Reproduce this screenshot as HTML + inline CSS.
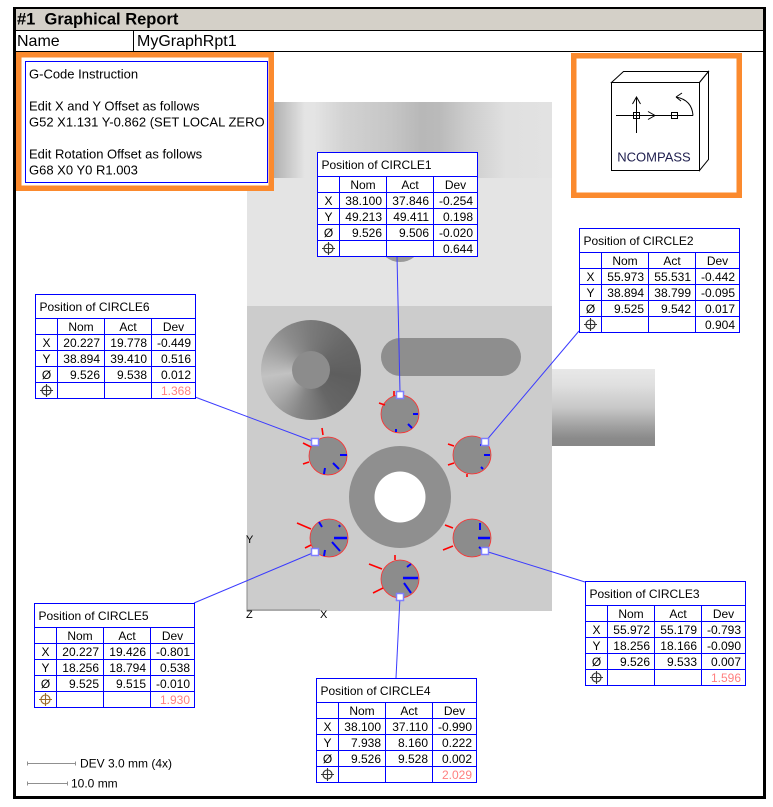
<!DOCTYPE html>
<html><head><meta charset="utf-8"><style>
html,body{margin:0;padding:0;background:#fff;}
body{width:773px;height:807px;position:relative;overflow:hidden;}
svg{position:absolute;left:0;top:0;}
.disc{position:absolute;left:261px;top:320px;width:100px;height:100px;border-radius:50%;
background:conic-gradient(from 0deg,#7a7a7a 0deg,#686868 50deg,#5e5e5e 100deg,#666 150deg,#858585 195deg,#aaaaaa 230deg,#c2c2c2 262deg,#a4a4a4 295deg,#8c8c8c 325deg,#7a7a7a 360deg);}
.disc:after{content:"";position:absolute;left:31px;top:31px;width:38px;height:38px;border-radius:50%;background:#8c8c8c;}
.t rect{fill:#fff;stroke:#0000ff;stroke-width:1}
.t path{fill:none;stroke:#0000ff;stroke-width:1}
.t text{font-size:12px;fill:#000}
.t .r{text-anchor:end}
.t .c{text-anchor:middle}
.t .p{fill:#ff8080}
.t .ps{fill:none;stroke:#333;stroke-width:1.1}
.t .ps5{fill:none;stroke:#9a6a2a;stroke-width:1.1}
</style></head><body>
<svg width="773" height="807" font-family="Liberation Sans, Arial, sans-serif">
<defs>
<linearGradient id="band" x1="0" x2="1" y1="0" y2="0">
<stop offset="0" stop-color="#d8d8d8"/><stop offset="0.09" stop-color="#b2b2b2"/><stop offset="0.19" stop-color="#e4e4e4"/><stop offset="0.22" stop-color="#e4e4e4"/><stop offset="0.32" stop-color="#d2d2d2"/><stop offset="0.47" stop-color="#c6c6c6"/><stop offset="0.57" stop-color="#b8b8b8"/><stop offset="0.63" stop-color="#bababa"/><stop offset="0.72" stop-color="#cccccc"/><stop offset="0.85" stop-color="#e0e0e0"/><stop offset="1" stop-color="#e2e2e2"/>
</linearGradient>
<linearGradient id="cyl" x1="0" x2="0" y1="0" y2="1">
<stop offset="0" stop-color="#e8e8e8"/><stop offset="0.2" stop-color="#e0e0e0"/><stop offset="0.5" stop-color="#c8c8c8"/><stop offset="0.75" stop-color="#a0a0a0"/><stop offset="0.9" stop-color="#8a8a8a"/><stop offset="1" stop-color="#888"/>
</linearGradient>
</defs>
<rect width="773" height="807" fill="#fff"/>
<!-- frame -->
<rect x="16" y="9" width="747" height="21" fill="#d4d0c8"/>
<rect x="13" y="7" width="753" height="2" fill="#000"/>
<rect x="13" y="7" width="3" height="792" fill="#000"/>
<rect x="763" y="7" width="3" height="792" fill="#000"/>
<rect x="13" y="796" width="753" height="3" fill="#000"/>
<rect x="16" y="30" width="747" height="1" fill="#000"/>
<rect x="16" y="51" width="747" height="1" fill="#000"/>
<rect x="133" y="31" width="1" height="20" fill="#000"/>
<text x="17" y="24.5" font-size="16.5" font-weight="bold">#1&#160; Graphical Report</text>
<text x="17" y="46" font-size="16">Name</text>
<text x="137" y="46" font-size="16">MyGraphRpt1</text>

<!-- part body -->
<rect x="247" y="102" width="305" height="76" fill="url(#band)"/>
<rect x="247" y="178" width="305" height="128" fill="#e4e4e4"/>
<ellipse cx="400" cy="245" rx="20" ry="17" fill="#9a9a9a"/>
<rect x="247" y="306" width="305" height="305" fill="#cccccc"/>
<rect x="552" y="369" width="103" height="77" fill="url(#cyl)"/>
<rect x="381" y="338" width="140" height="38" rx="19" ry="19" fill="#8e8e8e"/>
<circle cx="400" cy="497" r="51" fill="#8f8f8f"/>
<circle cx="400" cy="497" r="25.5" fill="#fff"/>
<!-- axes -->
<path d="M247 535V610H320" fill="none" stroke="#888" stroke-width="1"/>
<text x="246" y="543" font-size="11">Y</text>
<text x="246" y="618" font-size="11">Z</text>
<text x="320" y="618" font-size="11">X</text>

<!-- connectors -->
<g stroke="#3a3aff" stroke-width="1" fill="none">
<path d="M397 256L400 392"/>
<path d="M579 331L485 442"/>
<path d="M195 397L315 442"/>
<path d="M194 603L315 552"/>
<path d="M485 551L585 582"/>
<path d="M400 597L396 678"/>
</g>

<!-- circles -->
<g fill="#8c8c8c" stroke="#ff3030" stroke-width="0.8">
<circle cx="400" cy="414" r="19"/>
<circle cx="472" cy="455" r="19"/>
<circle cx="328" cy="456" r="19"/>
<circle cx="329" cy="538" r="19"/>
<circle cx="472" cy="538" r="19"/>
<circle cx="400" cy="579" r="19"/>
</g>
<g stroke="#ff0000" stroke-width="1.6" fill="none">
<path d="M394 391V396M379 403L385 405"/>
<path d="M322 428L323 435M303 443L311 447M303 464L309 462"/>
<path d="M448 444L454 446M448 465L454 463M467 474V477"/>
<path d="M297 523L311 529M305 548L311 545"/>
<path d="M445 525L453 528M443 550L453 546"/>
<path d="M369 564L382 569M373 593L383 588M395 555V560"/>
</g>
<g stroke="#0000ff" stroke-width="2" fill="none">
<path d="M413 414H418M408 424L412 428M396 429V432"/>
<path d="M340 455H347M333 463L339 469M325 468L324 474"/>
<path d="M484 455H490M481 444V446M481 467L483 469"/>
<path d="M332 542L340 551M319 522L322 527M325 550L324 556M339 525L340 527" />
<path d="M480 523V530M479 547L484 551"/>
<path d="M404 583L411 593M407 567L411 564"/>
</g>
<path d="M334 538H347M478 538H490M403 578H418" stroke="#0000ff" stroke-width="2.6"/>
<g fill="#fff" stroke="#7f7fff" stroke-width="1.5">
<rect x="396.5" y="391.5" width="7" height="7"/>
<rect x="481.5" y="438.5" width="7" height="7"/>
<rect x="311.5" y="438.5" width="7" height="7"/>
<rect x="311.5" y="548.5" width="7" height="7"/>
<rect x="481.5" y="547.5" width="7" height="7"/>
<rect x="396.5" y="593.5" width="7" height="7"/>
</g>

<!-- G-code box -->
<rect x="18.75" y="54.75" width="252.5" height="133.5" fill="#fff" stroke="#fb8a2e" stroke-width="5.5"/>
<rect x="25.5" y="61.5" width="242" height="121" fill="#fff" stroke="#0000ff" stroke-width="1"/>
<g font-size="13">
<text x="29" y="78.5">G-Code Instruction</text>
<text x="29" y="110.5">Edit X and Y Offset as follows</text>
<text x="29" y="126.5">G52 X1.131 Y-0.862 (SET LOCAL ZERO</text>
<text x="29" y="158.5">Edit Rotation Offset as follows</text>
<text x="29" y="174.5">G68 X0 Y0 R1.003</text>
</g>

<!-- NCOMPASS -->
<rect x="573.75" y="55.75" width="165.5" height="139.5" fill="#fff" stroke="#fb8a2e" stroke-width="5.5"/>
<g fill="#fff" stroke="#000" stroke-width="1">
<path d="M611.5 82.5L623.5 71.5H708.5L699.5 82.5Z"/>
<path d="M699.5 82.5L708.5 71.5V159.5L699.5 170.5Z"/>
<rect x="611.5" y="82.5" width="88" height="88"/>
<path d="M636.5 133V97M632.5 104L636.5 97L640.5 104M616 115.5H693" fill="none"/>
<rect x="633.5" y="112.5" width="6" height="6" fill="none"/>
<rect x="671.5" y="112.5" width="6" height="6" fill="none"/>
<path d="M648 111.5L655 115.5L648 119.5" fill="none"/>
<path d="M693 115.5Q692 100 676 97M676 97L682 93M676 97L681 101" fill="none"/>
</g>
<text x="654" y="161.5" font-size="13" text-anchor="middle" fill="#1e1e4e">NCOMPASS</text>

<!-- tables -->
<g class="t" transform="translate(317.5,152.5)">
<rect width="160" height="104"/>
<path d="M0 24H160M0 40H160M0 56H160M0 72H160M0 88H160M22 24V104M69 24V104M116 24V104"/>
<text x="4" y="16.5">Position of CIRCLE1</text>
<text class="c" x="45.5" y="36.5">Nom</text><text class="c" x="92.5" y="36.5">Act</text><text class="c" x="138" y="36.5">Dev</text>
<text class="c" x="11" y="52.5">X</text><text class="c" x="11" y="68.5">Y</text><text class="c" x="11" y="84.5">Ø</text>
<circle class="ps" cx="11" cy="96" r="4.5"/><path class="ps" d="M4.5 96H17.5M11 89.5V102.5"/>
<text class="r" x="64.5" y="52.5">38.100</text><text class="r" x="111.5" y="52.5">37.846</text><text class="r" x="155.5" y="52.5">-0.254</text>
<text class="r" x="64.5" y="68.5">49.213</text><text class="r" x="111.5" y="68.5">49.411</text><text class="r" x="155.5" y="68.5">0.198</text>
<text class="r" x="64.5" y="84.5">9.526</text><text class="r" x="111.5" y="84.5">9.506</text><text class="r" x="155.5" y="84.5">-0.020</text>
<text class="r" x="155.5" y="100.5">0.644</text>
</g>

<g class="t" transform="translate(579.5,228.5)">
<rect width="160" height="104"/>
<path d="M0 24H160M0 40H160M0 56H160M0 72H160M0 88H160M22 24V104M69 24V104M116 24V104"/>
<text x="4" y="16.5">Position of CIRCLE2</text>
<text class="c" x="45.5" y="36.5">Nom</text><text class="c" x="92.5" y="36.5">Act</text><text class="c" x="138" y="36.5">Dev</text>
<text class="c" x="11" y="52.5">X</text><text class="c" x="11" y="68.5">Y</text><text class="c" x="11" y="84.5">Ø</text>
<circle class="ps" cx="11" cy="96" r="4.5"/><path class="ps" d="M4.5 96H17.5M11 89.5V102.5"/>
<text class="r" x="64.5" y="52.5">55.973</text><text class="r" x="111.5" y="52.5">55.531</text><text class="r" x="155.5" y="52.5">-0.442</text>
<text class="r" x="64.5" y="68.5">38.894</text><text class="r" x="111.5" y="68.5">38.799</text><text class="r" x="155.5" y="68.5">-0.095</text>
<text class="r" x="64.5" y="84.5">9.525</text><text class="r" x="111.5" y="84.5">9.542</text><text class="r" x="155.5" y="84.5">0.017</text>
<text class="r" x="155.5" y="100.5">0.904</text>
</g>

<g class="t" transform="translate(35.5,294.5)">
<rect width="160" height="104"/>
<path d="M0 24H160M0 40H160M0 56H160M0 72H160M0 88H160M22 24V104M69 24V104M116 24V104"/>
<text x="4" y="16.5">Position of CIRCLE6</text>
<text class="c" x="45.5" y="36.5">Nom</text><text class="c" x="92.5" y="36.5">Act</text><text class="c" x="138" y="36.5">Dev</text>
<text class="c" x="11" y="52.5">X</text><text class="c" x="11" y="68.5">Y</text><text class="c" x="11" y="84.5">Ø</text>
<circle class="ps" cx="11" cy="96" r="4.5"/><path class="ps" d="M4.5 96H17.5M11 89.5V102.5"/>
<text class="r" x="64.5" y="52.5">20.227</text><text class="r" x="111.5" y="52.5">19.778</text><text class="r" x="155.5" y="52.5">-0.449</text>
<text class="r" x="64.5" y="68.5">38.894</text><text class="r" x="111.5" y="68.5">39.410</text><text class="r" x="155.5" y="68.5">0.516</text>
<text class="r" x="64.5" y="84.5">9.526</text><text class="r" x="111.5" y="84.5">9.538</text><text class="r" x="155.5" y="84.5">0.012</text>
<text class="r p" x="155.5" y="100.5">1.368</text>
</g>

<g class="t" transform="translate(34.5,603.5)">
<rect width="160" height="104"/>
<path d="M0 24H160M0 40H160M0 56H160M0 72H160M0 88H160M22 24V104M69 24V104M116 24V104"/>
<text x="4" y="16.5">Position of CIRCLE5</text>
<text class="c" x="45.5" y="36.5">Nom</text><text class="c" x="92.5" y="36.5">Act</text><text class="c" x="138" y="36.5">Dev</text>
<text class="c" x="11" y="52.5">X</text><text class="c" x="11" y="68.5">Y</text><text class="c" x="11" y="84.5">Ø</text>
<circle class="ps5" cx="11" cy="96" r="4.5"/><path class="ps5" d="M4.5 96H17.5M11 89.5V102.5"/>
<text class="r" x="64.5" y="52.5">20.227</text><text class="r" x="111.5" y="52.5">19.426</text><text class="r" x="155.5" y="52.5">-0.801</text>
<text class="r" x="64.5" y="68.5">18.256</text><text class="r" x="111.5" y="68.5">18.794</text><text class="r" x="155.5" y="68.5">0.538</text>
<text class="r" x="64.5" y="84.5">9.525</text><text class="r" x="111.5" y="84.5">9.515</text><text class="r" x="155.5" y="84.5">-0.010</text>
<text class="r p" x="155.5" y="100.5">1.930</text>
</g>

<g class="t" transform="translate(316.5,678.5)">
<rect width="160" height="104"/>
<path d="M0 24H160M0 40H160M0 56H160M0 72H160M0 88H160M22 24V104M69 24V104M116 24V104"/>
<text x="4" y="16.5">Position of CIRCLE4</text>
<text class="c" x="45.5" y="36.5">Nom</text><text class="c" x="92.5" y="36.5">Act</text><text class="c" x="138" y="36.5">Dev</text>
<text class="c" x="11" y="52.5">X</text><text class="c" x="11" y="68.5">Y</text><text class="c" x="11" y="84.5">Ø</text>
<circle class="ps" cx="11" cy="96" r="4.5"/><path class="ps" d="M4.5 96H17.5M11 89.5V102.5"/>
<text class="r" x="64.5" y="52.5">38.100</text><text class="r" x="111.5" y="52.5">37.110</text><text class="r" x="155.5" y="52.5">-0.990</text>
<text class="r" x="64.5" y="68.5">7.938</text><text class="r" x="111.5" y="68.5">8.160</text><text class="r" x="155.5" y="68.5">0.222</text>
<text class="r" x="64.5" y="84.5">9.526</text><text class="r" x="111.5" y="84.5">9.528</text><text class="r" x="155.5" y="84.5">0.002</text>
<text class="r p" x="155.5" y="100.5">2.029</text>
</g>

<g class="t" transform="translate(585.5,581.5)">
<rect width="160" height="104"/>
<path d="M0 24H160M0 40H160M0 56H160M0 72H160M0 88H160M22 24V104M69 24V104M116 24V104"/>
<text x="4" y="16.5">Position of CIRCLE3</text>
<text class="c" x="45.5" y="36.5">Nom</text><text class="c" x="92.5" y="36.5">Act</text><text class="c" x="138" y="36.5">Dev</text>
<text class="c" x="11" y="52.5">X</text><text class="c" x="11" y="68.5">Y</text><text class="c" x="11" y="84.5">Ø</text>
<circle class="ps" cx="11" cy="96" r="4.5"/><path class="ps" d="M4.5 96H17.5M11 89.5V102.5"/>
<text class="r" x="64.5" y="52.5">55.972</text><text class="r" x="111.5" y="52.5">55.179</text><text class="r" x="155.5" y="52.5">-0.793</text>
<text class="r" x="64.5" y="68.5">18.256</text><text class="r" x="111.5" y="68.5">18.166</text><text class="r" x="155.5" y="68.5">-0.090</text>
<text class="r" x="64.5" y="84.5">9.526</text><text class="r" x="111.5" y="84.5">9.533</text><text class="r" x="155.5" y="84.5">0.007</text>
<text class="r p" x="155.5" y="100.5">1.596</text>
</g>

<!-- scale bars -->
<g stroke="#909090" stroke-width="1" fill="none">
<path d="M27 763.5H76M27.5 761.5V765.5M75.5 761.5V765.5"/>
<path d="M27 783.5H68M27.5 781.5V785.5M67.5 781.5V785.5"/>
</g>
<text x="80" y="767.5" font-size="12">DEV 3.0 mm (4x)</text>
<text x="71" y="787.5" font-size="12">10.0 mm</text>
</svg>
<div class="disc"></div>
</body></html>
